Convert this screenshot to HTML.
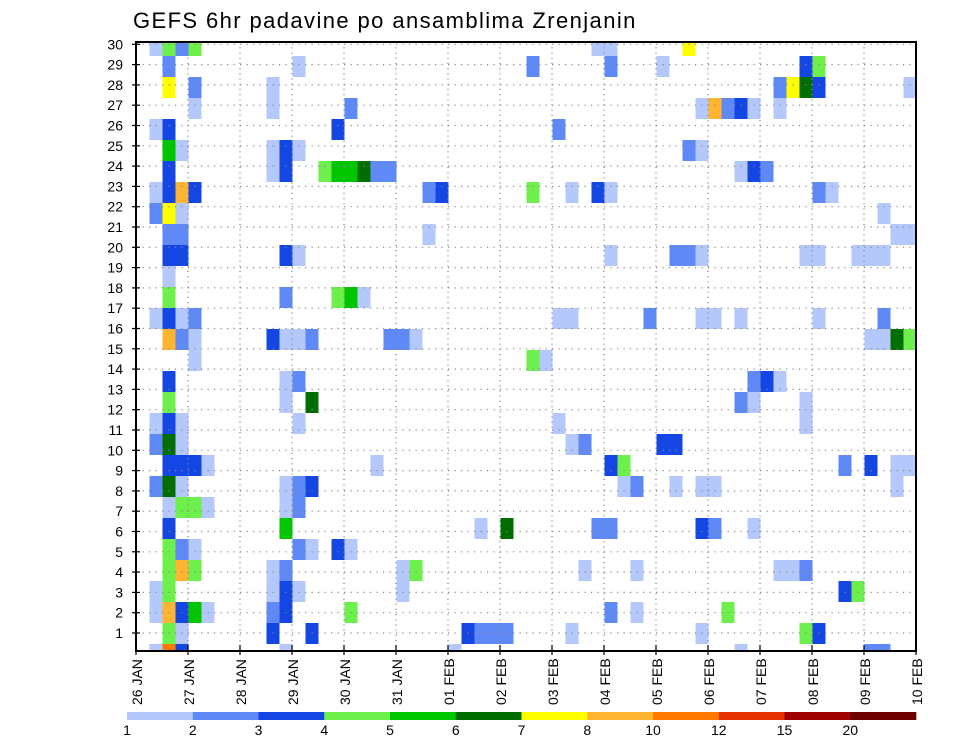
<!DOCTYPE html>
<html><head><meta charset="utf-8"><style>
html,body{margin:0;padding:0;background:#fff;}
svg{display:block;font-family:"Liberation Sans",sans-serif;}
</style></head><body>
<svg id="chart" width="960" height="742" viewBox="0 0 960 742" xmlns="http://www.w3.org/2000/svg">
<text x="133" y="28" font-size="22" letter-spacing="1.4" fill="#000">GEFS 6hr padavine po ansamblima Zrenjanin</text>
<g id="cells"></g>
<g id="grid"></g>
<rect x="136" y="42" width="780" height="609" fill="none" stroke="#000" stroke-width="2"/>
<g id="yaxis"></g>
<g id="xaxis"></g>
<g id="cbar"></g>
</svg>
<script>
const dateLabels = ["26 JAN","27 JAN","28 JAN","29 JAN","30 JAN","31 JAN","01 FEB","02 FEB","03 FEB","04 FEB","05 FEB","06 FEB","07 FEB","08 FEB","09 FEB","10 FEB"];
const memberTicks = [1,2,3,4,5,6,7,8,9,10,11,12,13,14,15,16,17,18,19,20,21,22,23,24,25,26,27,28,29,30];
const levelLabels = ["1","2","3","4","5","6","7","8","10","12","15","20"];
const levelColors = ["#b4c8fb","#6089f8","#1446e4","#6ef04c","#00c600","#006e00","#ffff00","#ffb432","#ff7800","#e63200","#a00000","#6e0000"];
// rows from member 29 (top) to member 0 (bottom); "col:level" pairs, col = 6h step from 26 JAN 00z
const memberRows = [
"1:1 2:4 3:2 4:4 35:1 36:1 42:7",
"2:2 12:1 30:2 36:2 40:1 51:3 52:4",
"2:7 4:2 10:1 49:2 50:7 51:6 52:3 59:1",
"4:1 10:1 16:2 43:1 44:8 45:2 46:3 47:1 49:1",
"1:1 2:3 15:3 32:2",
"2:5 3:1 10:1 11:3 12:1 42:2 43:1",
"2:3 10:1 11:3 14:4 15:5 16:5 17:6 18:2 19:2 46:1 47:3 48:2",
"1:1 2:3 3:8 4:3 22:2 23:3 30:4 33:1 35:3 36:1 52:2 53:1",
"1:2 2:7 3:1 57:1",
"2:2 3:2 22:1 58:1 59:1",
"2:3 3:3 11:3 12:1 36:1 41:2 42:2 43:1 51:1 52:1 55:1 56:1 57:1",
"2:1",
"2:4 11:2 15:4 16:5 17:1",
"1:1 2:3 3:1 4:2 32:1 33:1 39:2 43:1 44:1 46:1 52:1 57:2",
"2:8 3:2 4:1 10:3 11:1 12:1 13:2 19:2 20:2 21:1 56:1 57:1 58:6 59:4",
"4:1 30:4 31:1",
"2:3 11:1 12:2 47:2 48:3 49:1",
"2:4 11:1 13:6 46:2 47:1 51:1",
"1:1 2:3 3:1 12:1 32:1 51:1",
"1:2 2:6 3:1 33:1 34:2 40:3 41:3",
"2:3 3:3 4:3 5:1 18:1 36:3 37:4 54:2 56:3 58:1 59:1",
"1:2 2:6 3:1 11:1 12:2 13:3 37:1 38:2 41:1 43:1 44:1 58:1",
"2:1 3:4 4:4 5:1 11:1 12:2",
"2:3 11:5 26:1 28:6 35:2 36:2 43:3 44:2 47:1",
"2:4 3:2 4:1 12:2 13:1 15:3 16:1",
"2:4 3:8 4:4 10:1 11:2 20:1 21:4 34:1 38:1 49:1 50:1 51:2",
"1:1 2:4 10:1 11:3 12:1 20:1 54:3 55:4",
"1:1 2:8 3:3 4:5 5:1 10:2 11:3 16:4 36:2 38:1 45:4",
"2:4 3:1 10:3 13:3 25:3 26:2 27:2 28:2 33:1 43:1 51:4 52:3",
"1:1 2:9 3:3 11:1 24:1 46:1 56:2 57:2"
];
const NS="http://www.w3.org/2000/svg";
const X0=136, X1=916, Y0=42, Y1=651, NCOL=60;
const colW=(X1-X0)/NCOL;
function xCol(c){return X0+0.5+c*colW;}
function xDay(d){return X0+d*colW*4;}
function yMemberTop(j){return 644-21*j;}
function yTick(n){return 653.3-20.3*n;}
function mk(tag,attrs,parent){const e=document.createElementNS(NS,tag);for(const k in attrs)e.setAttribute(k,attrs[k]);parent.appendChild(e);return e;}
const cells=document.getElementById('cells');
memberRows.forEach((row,i)=>{
  const j=memberRows.length-1-i;
  row.split(' ').filter(s=>s).forEach(p=>{
    const [c,l]=p.split(':').map(Number);
    let top=yMemberTop(j), bot=top+21;
    top=Math.max(top,Y0); bot=Math.min(bot,Y1);
    const r=mk('rect',{x:xCol(c),y:top,width:colW,height:bot-top,fill:levelColors[l-1]},cells);
    
    
  });
});
const grid=document.getElementById('grid');
memberTicks.forEach(n=>{
  const l=mk('line',{x1:X0,x2:X1,y1:yTick(n),y2:yTick(n),stroke:'#888','stroke-width':1.2,'stroke-dasharray':'1.2,5.3'},grid);
  
  
});
dateLabels.forEach((d,i)=>{
  if(i===0||i===dateLabels.length-1)return;
  const l=mk('line',{x1:xDay(i),x2:xDay(i),y1:Y0,y2:Y1,stroke:'#888','stroke-width':1.2,'stroke-dasharray':'1.2,4'},grid);
  
  
});
const ya=document.getElementById('yaxis');
memberTicks.forEach(n=>{
  const t=mk('line',{x1:X0-4,x2:X0+4,y1:yTick(n),y2:yTick(n),stroke:'#000','stroke-width':1.2},ya);
  
  
  const tx=mk('text',{x:123,y:yTick(n)+5,'font-size':14,'text-anchor':'end',fill:'#000'},ya);
  tx.textContent=n;
  
  
});
const xa=document.getElementById('xaxis');
dateLabels.forEach((d,i)=>{
  const x=xDay(i);
  const t=mk('line',{x1:x,x2:x,y1:Y1-6,y2:Y1+4,stroke:'#000','stroke-width':1.2},xa);
  
  
  const tx=mk('text',{x:0,y:0,'font-size':14,fill:'#000',transform:'translate('+(x+6)+',705) rotate(-90)'},xa);
  tx.textContent=d;
  
  
});
const cb=document.getElementById('cbar');
const cbX0=127, cbX1=916, segW=(cbX1-cbX0)/levelColors.length;
levelColors.forEach((c,i)=>{
  const r=mk('rect',{x:cbX0+i*segW,y:712,width:segW+0.3,height:8,fill:c},cb);
  
  
});
levelLabels.forEach((s,i)=>{
  const t=mk('text',{x:cbX0+i*segW,y:735,'font-size':14,'text-anchor':'middle',fill:'#000'},cb);
  t.textContent=s;
  
  
});
</script>
</body></html>
